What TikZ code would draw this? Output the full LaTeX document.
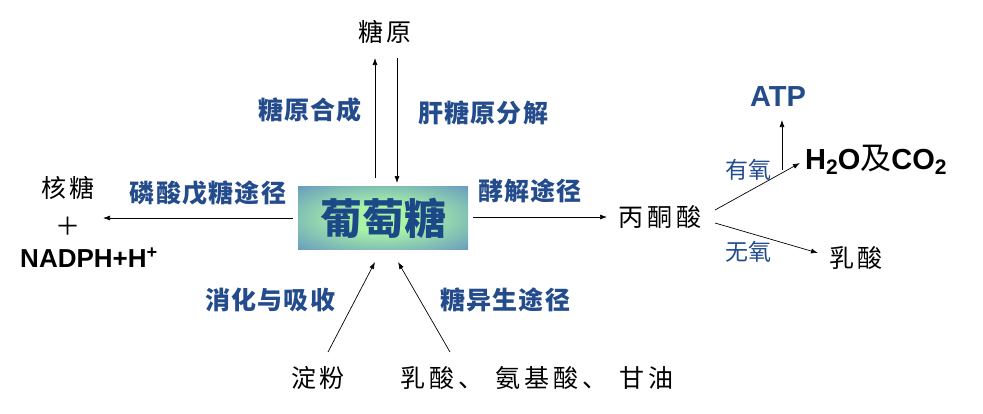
\documentclass[tikz,border=0pt]{standalone}
\usepackage{fontspec}
\setmainfont{Liberation Sans}
\newfontfamily\cjk{Noto Sans CJK SC}
\newfontfamily\cjkw{Noto Sans CJK SC}[LetterSpace=15]
\newfontfamily\cjkl{Noto Sans CJK SC}[LetterSpace=5]
\usetikzlibrary{arrows.meta}
\definecolor{lab}{RGB}{36,76,140}
\definecolor{gcen}{RGB}{170,245,165}
\definecolor{gedge}{RGB}{88,134,197}
\definecolor{gtxt}{RGB}{28,72,135}
\pgfdeclareradialshading{glow}{\pgfpoint{0bp}{0bp}}{color(0bp)=(gcen); color(10bp)=(gcen); color(42bp)=(gedge); color(80bp)=(gedge)}
\begin{document}
\begin{tikzpicture}[x=1pt,y=-1pt,
 blk/.style={font=\cjkw\fontsize{25}{25}\selectfont, text=black, inner sep=0pt},
 lbl/.style={font=\cjkl\bfseries\fontsize{25}{25}\selectfont, text=lab, inner sep=0pt},
 eng/.style={font=\bfseries\fontsize{29}{29}\selectfont, inner sep=0pt},
 gbox/.style={shading=glow, minimum width=170pt, minimum height=63pt, inner sep=0pt,
   font=\cjk\bfseries\fontsize{42}{42}\selectfont, text=gtxt},
 arr/.style={-{Latex[length=7pt,width=5pt]}, line width=0.7pt}]
\useasboundingbox (0,0) rectangle (983,413);
% nodes
\node[gbox] (glu) at (383,218) {葡萄糖};
\node[blk] (tangyuan) at (385,32) {糖原};
\node[blk] (hetang) at (68,188) {核糖};
\node[blk] (plus) at (68,226) {＋};
\node[eng, font=\bfseries\fontsize{26}{26}\selectfont] (nadph) at (89,258) {NADPH+H\textsuperscript{+}};
\node[blk] (bingtong) at (660,217) {丙酮酸};
\node[eng, text=lab] (atp) at (778,97) {ATP};
\node[eng, anchor=west] (h2o) at (805,160) {H\raisebox{-0.35ex}{\fontsize{21}{21}\selectfont 2}O{\cjk\mdseries\fontsize{31}{31}\selectfont 及}CO\raisebox{-0.35ex}{\fontsize{21}{21}\selectfont 2}};
\node[blk] (rusuan) at (856,258) {乳酸};
\node[blk] (dianfen) at (318,378) {淀粉};
\node[blk] (others) at (537,378) {乳酸、\enspace 氨基酸、\enspace 甘油};
% labels
\node[lbl] (l1) at (310,110) {糖原合成};
\node[lbl] (l2) at (483,113) {肝糖原分解};
\node[lbl] (l3) at (208,193) {磷酸戊糖途径};
\node[lbl] (l4) at (530,191) {酵解途径};
\node[lbl, font=\cjk\fontsize{23}{23}\selectfont] (l5) at (748,170) {有氧};
\node[lbl, font=\cjk\fontsize{23}{23}\selectfont] (l6) at (748,252) {无氧};
\node[lbl] (l7) at (270,300) {消化与吸收};
\node[lbl] (l8) at (505,300) {糖异生途径};
% connector end points
\coordinate (u1) at (375,178); \coordinate (u2) at (375,58);
\coordinate (d1) at (397,58);  \coordinate (d2) at (397,183);
\coordinate (w1) at (293,218); \coordinate (w2) at (103,218);
\coordinate (e1) at (473,217); \coordinate (e2) at (607,217);
\coordinate (b0) at (715,210); \coordinate (b1) at (800,163);
\coordinate (b2) at (715,223); \coordinate (b3) at (818,253);
\coordinate (a1) at (782,170); \coordinate (a2) at (782,120);
\coordinate (s1) at (328,352); \coordinate (s2) at (375,262);
\coordinate (t1) at (450,352); \coordinate (t2) at (398,262);
% connectors
\draw[arr] (u1) -- (u2);
\draw[arr] (d1) -- (d2);
\draw[arr] (w1) -- (w2);
\draw[arr] (e1) -- (e2);
\draw[arr] (b0) -- (b1);
\draw[arr] (b2) -- (b3);
\draw[arr] (a1) -- (a2);
\draw[arr] (s1) -- (s2);
\draw[arr] (t1) -- (t2);
\end{tikzpicture}
\end{document}
